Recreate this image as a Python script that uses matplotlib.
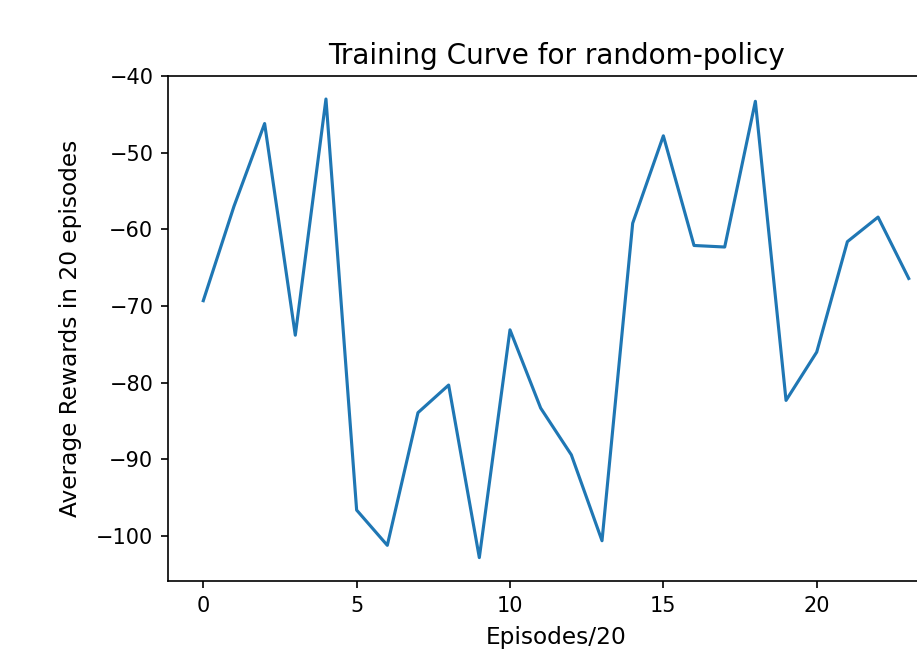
import matplotlib
matplotlib.use("Agg")
import matplotlib.pyplot as plt

episodes = list(range(24))
avg_rewards = [-69.3, -57.0, -46.2, -73.8, -43.0, -96.6, -101.2, -83.9,
               -80.3, -102.8, -73.1, -83.3, -89.4, -100.6, -59.2, -47.8,
               -62.1, -62.3, -43.3, -82.3, -76.0, -61.6, -58.4, -66.4]

fig = plt.figure(figsize=(917 / 150, 653 / 150), dpi=150)
# the original picture is cropped on the right, so the axes run past the edge
ax = fig.add_axes([168 / 917, 72 / 653, 776 / 917, 505 / 653])
ax.plot(episodes, avg_rewards)
ax.set_xlim(-1.15, 24.15)
ax.set_ylim(-105.85, -40)
ax.set_title("Training Curve for random-policy", fontsize=13.4)
ax.set_xlabel("Episodes/20", fontsize=11.2, labelpad=5)
ax.set_ylabel("Average Rewards in 20 episodes", fontsize=11.2, labelpad=7)

fig.savefig("out.png", dpi=150)
